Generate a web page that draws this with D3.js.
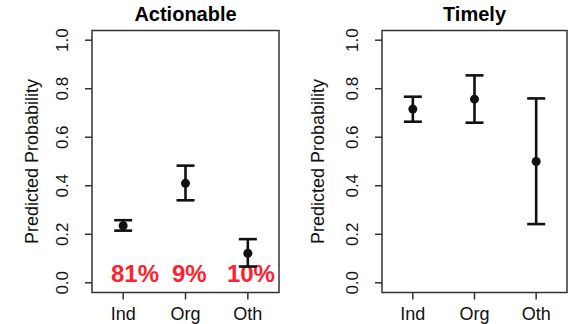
<!DOCTYPE html>
<html>
<head>
<meta charset="utf-8">
<script src="https://cdn.jsdelivr.net/npm/d3@7"></script>
<style>
  body { margin: 0; background: #fff; }
  svg { display: block; font-family: "Liberation Sans", Arial, sans-serif; }
</style>
</head>
<body>
<div id="chart"></div>
<script>
// categories and tick labels
var groups = ["Ind", "Org", "Oth"];
var yTicks = [0, 0.2, 0.4, 0.6, 0.8, 1.0];
var titles = ["Actionable", "Timely"];

// predicted probabilities with confidence interval
var actionableEst = [0.235, 0.41, 0.122];
var actionableLo  = [0.215, 0.34, 0.067];
var actionableHi  = [0.258, 0.483, 0.18];

var timelyEst = [0.716, 0.757, 0.50];
var timelyLo  = [0.664, 0.66, 0.242];
var timelyHi  = [0.767, 0.855, 0.76];

// share labels in the first panel (x in category units)
var shareText = ["81%", "9%", "10%"];
var shareAt   = [1.19, 2.06, 3.05];

var W = 571, H = 324;
var svg = d3.select("#chart").append("svg")
    .attr("width", W)
    .attr("height", H);

var panels = [
  {left: 92, right: 279, titleOff: 60, est: actionableEst, lo: actionableLo, hi: actionableHi, shares: true},
  {left: 382, right: 567, titleOff: 64, est: timelyEst, lo: timelyLo, hi: timelyHi, shares: false}
];

// y runs 0..1 with the usual 4% padding of R
var y = d3.scaleLinear().domain([-0.04, 1.04]).range([292.5, 30.5]);

panels.forEach(function(p, k) {
  var x = d3.scaleLinear().domain([0.5, 3.5]).range([p.left, p.right]);
  var g = svg.append("g");
  var top = y(1.04), bottom = y(-0.04);

  // box
  g.append("rect")
      .attr("x", p.left)
      .attr("y", top)
      .attr("width", p.right - p.left)
      .attr("height", bottom - top)
      .attr("fill", "none")
      .attr("stroke", "#333")
      .attr("stroke-width", 1.5);

  // title
  g.append("text")
      .attr("x", (p.left + p.right) / 2)
      .attr("y", 21)
      .attr("text-anchor", "middle")
      .attr("font-weight", "bold")
      .attr("font-size", 20)
      .text(titles[k]);

  // y axis ticks + labels
  g.selectAll(".ytick")
      .data(yTicks)
    .enter().append("line")
      .attr("x1", p.left - 7)
      .attr("x2", p.left)
      .attr("y1", (d) => y(d))
      .attr("y2", (d) => y(d))
      .attr("stroke", "#333")
      .attr("stroke-width", 1.5);
  g.selectAll(".ylab")
      .data(yTicks)
    .enter().append("text")
      .attr("transform", (d) => "translate(" + (p.left - 30) + "," + y(d) + ") rotate(-90)")
      .attr("text-anchor", "middle")
      .attr("dy", "0.35em")
      .attr("font-size", 17)
      .attr("fill", "#111")
      .text((d) => d3.format(".1f")(d));

  g.append("text")
      .attr("transform", "translate(" + (p.left - p.titleOff) + "," + ((top + bottom) / 2) + ") rotate(-90)")
      .attr("text-anchor", "middle")
      .attr("dy", "0.35em")
      .attr("font-size", 18)
      .attr("fill", "#111")
      .text("Predicted Probability");

  // x axis ticks + labels
  g.selectAll(".xtick")
      .data(groups)
    .enter().append("line")
      .attr("x1", (d, i) => x(i + 1))
      .attr("x2", (d, i) => x(i + 1))
      .attr("y1", bottom)
      .attr("y2", bottom + 7)
      .attr("stroke", "#333")
      .attr("stroke-width", 1.5);
  g.selectAll(".xlab")
      .data(groups)
    .enter().append("text")
      .attr("x", (d, i) => x(i + 1))
      .attr("y", 320)
      .attr("text-anchor", "middle")
      .attr("font-size", 18)
      .attr("fill", "#111")
      .text((d) => d);

  // share labels (drawn under the marks)
  if (p.shares) {
    g.selectAll(".share")
        .data(shareText)
      .enter().append("text")
        .attr("x", (d, i) => x(shareAt[i]))
        .attr("y", y(0) - 0.5)
        .attr("text-anchor", "middle")
        .attr("font-size", 24)
        .attr("font-weight", "bold")
        .attr("fill", "#ff2030")
        .text((d) => d);
  }

  // error bars
  var cap = 9;
  var bars = g.selectAll(".bar")
      .data(groups)
    .enter().append("g");
  bars.append("line")
      .attr("x1", (d, i) => x(i + 1))
      .attr("x2", (d, i) => x(i + 1))
      .attr("y1", (d, i) => y(p.lo[i]))
      .attr("y2", (d, i) => y(p.hi[i]));
  bars.append("line")
      .attr("x1", (d, i) => x(i + 1) - cap)
      .attr("x2", (d, i) => x(i + 1) + cap)
      .attr("y1", (d, i) => y(p.lo[i]))
      .attr("y2", (d, i) => y(p.lo[i]));
  bars.append("line")
      .attr("x1", (d, i) => x(i + 1) - cap)
      .attr("x2", (d, i) => x(i + 1) + cap)
      .attr("y1", (d, i) => y(p.hi[i]))
      .attr("y2", (d, i) => y(p.hi[i]));
  bars.selectAll("line")
      .attr("stroke", "#111")
      .attr("stroke-width", 2.6);
  bars.append("circle")
      .attr("cx", (d, i) => x(i + 1))
      .attr("cy", (d, i) => y(p.est[i]))
      .attr("r", 4.5)
      .attr("fill", "#111");
});
</script>
</body>
</html>
